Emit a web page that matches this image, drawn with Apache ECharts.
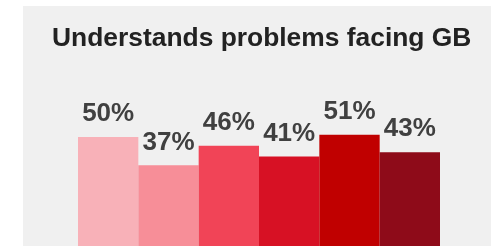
<!DOCTYPE html>
<html>
<head>
<meta charset="utf-8">
<script src="https://cdn.jsdelivr.net/npm/echarts@6/dist/echarts.min.js"></script>
<style>
  html, body { margin: 0; padding: 0; background: #fff; }
  #chart { width: 491px; height: 246px; }
</style>
</head>
<body>
<div id="chart"></div>
<script>
  // categories are not printed on the chart, only the bars
  const categories = ['Group 1', 'Group 2', 'Group 3', 'Group 4', 'Group 5', 'Group 6']
  const values = [50, 37, 46, 41, 51, 43]
  const barColors = ['#f8b1b8', '#f78e98', '#f14457', '#d71124', '#c00000', '#8e0b19']

  const chart = echarts.init(document.getElementById('chart'))
  const font = "'Liberation Sans', Arial, sans-serif"

  chart.setOption({
    animation: false,
    graphic: [{
      type: 'rect',
      z: -10,
      shape: {x: 23, y: 6, width: 480, height: 250},
      style: {fill: '#f0f0f0'}
    }],
    title: {
      text: 'Understands problems facing GB',
      left: 47,
      top: 21,
      textStyle: {
        fontFamily: font,
        fontSize: 26.4,
        fontWeight: 'bold',
        color: '#222222'
      }
    },
    grid: {
      left: 78,
      right: 51,
      top: 28,
      height: 220,
      containLabel: false
    },
    xAxis: {
      type: 'category',
      data: categories,
      show: false
    },
    yAxis: {
      type: 'value',
      min: 0,
      max: 100,
      show: false
    },
    series: [{
      type: 'bar',
      barCategoryGap: 0,
      data: values.map((v, i) => ({value: v, itemStyle: {color: barColors[i]}})),
      label: {
        show: true,
        position: 'top',
        distance: 10,
        formatter: '{c}%',
        fontFamily: font,
        fontSize: 26,
        fontWeight: 'bold',
        color: '#404040'
      }
    }]
  })
</script>
</body>
</html>
